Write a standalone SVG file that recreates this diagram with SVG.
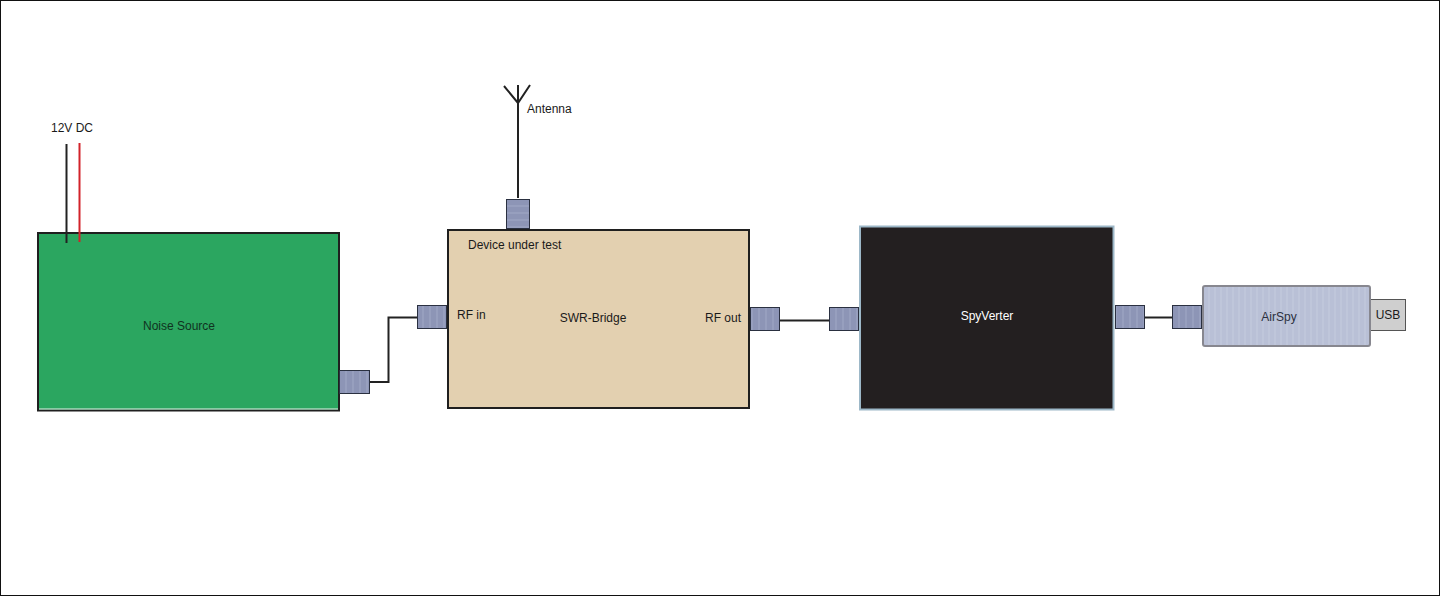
<svg xmlns="http://www.w3.org/2000/svg" width="1440" height="596" viewBox="0 0 1440 596">
<defs>
<pattern id="ribV" width="7" height="8" patternUnits="userSpaceOnUse"><rect width="7" height="8" fill="#8d95b6"/><rect x="2" width="2" height="8" fill="#979fbe"/></pattern>
<pattern id="ribH" width="8" height="7" patternUnits="userSpaceOnUse"><rect width="8" height="7" fill="#8d95b6"/><rect y="2" width="8" height="2" fill="#979fbe"/></pattern>
<pattern id="ribA" width="6" height="6" patternUnits="userSpaceOnUse"><rect width="6" height="6" fill="#b9c0d6"/><rect x="2" width="2" height="6" fill="#bfc6da"/></pattern>
</defs>
<style>
text{font-family:"Liberation Sans",Arial,sans-serif;font-size:12px;fill:#1a1a1a}
.box{stroke:#1f1f1f;stroke-width:2}
.port{fill:url(#ribV);stroke:#2a3040;stroke-width:1}
.wire{fill:none;stroke:#222;stroke-width:2}
</style>
<rect x="0.500" y="0.500" width="1439" height="595" fill="#fff" stroke="#111" stroke-width="1"/>
<g id="noise-source">
<rect class="box" x="38" y="233" width="301" height="177.500" fill="#2ba660"/>
<path d="M39 409H338" stroke="#e6f2ea" stroke-width="1" fill="none"/>
<text x="179" y="329.500" text-anchor="middle" style="fill:#10331f">Noise Source</text>
<rect class="port" x="339.500" y="370.500" width="30" height="23"/>
</g>
<g id="swr-bridge">
<rect class="box" x="448" y="230" width="301" height="178" fill="#e3d0b0"/>
<text x="468" y="248.500">Device under test</text>
<text x="457" y="318.500">RF in</text>
<text x="593" y="321.500" text-anchor="middle">SWR-Bridge</text>
<text x="705" y="321.500">RF out</text>
<rect class="port" x="417.500" y="305.500" width="29" height="23"/>
<rect class="port" x="506.500" y="199.500" width="23" height="29" style="fill:url(#ribH)"/>
<rect class="port" x="750.500" y="307.500" width="29" height="23"/>
</g>
<g id="spyverter">
<rect x="860" y="226.500" width="253.500" height="183" fill="#231f20" stroke="#9db8c8" stroke-width="2"/>
<rect class="port" x="829.500" y="307.500" width="29" height="23"/>
<text x="987" y="319.500" text-anchor="middle" style="fill:#fff">SpyVerter</text>
<rect class="port" x="1115.500" y="305.500" width="29" height="23"/>
</g>
<g id="airspy">
<rect class="port" x="1172.500" y="305.500" width="29" height="23"/>
<rect x="1370.500" y="299.500" width="35" height="31" fill="#cfcfcf" stroke="#555" stroke-width="1"/>
<text x="1388" y="319" text-anchor="middle">USB</text>
<rect x="1203" y="286" width="167" height="60" rx="2" fill="url(#ribA)" stroke="#87878f" stroke-width="2"/>
<text x="1279" y="321" text-anchor="middle" style="fill:#2c3040">AirSpy</text>
</g>
<g id="antenna">
<path class="wire" d="M518 198V103M504 86L518 103L530 85M518 103V85"/>
<text x="527" y="112.500">Antenna</text>
</g>
<g id="power">
<text x="51" y="132">12V DC</text>
<path class="wire" d="M66.500 144V243"/>
<path d="M79.500 143V242" fill="none" stroke="#d2232a" stroke-width="2"/>
</g>
<g id="connectors">
<path class="wire" d="M370 382H388.500V317.500H417"/>
<path class="wire" d="M780 320.500H829"/>
<path class="wire" d="M1145 317.500H1172"/>
</g>
</svg>
